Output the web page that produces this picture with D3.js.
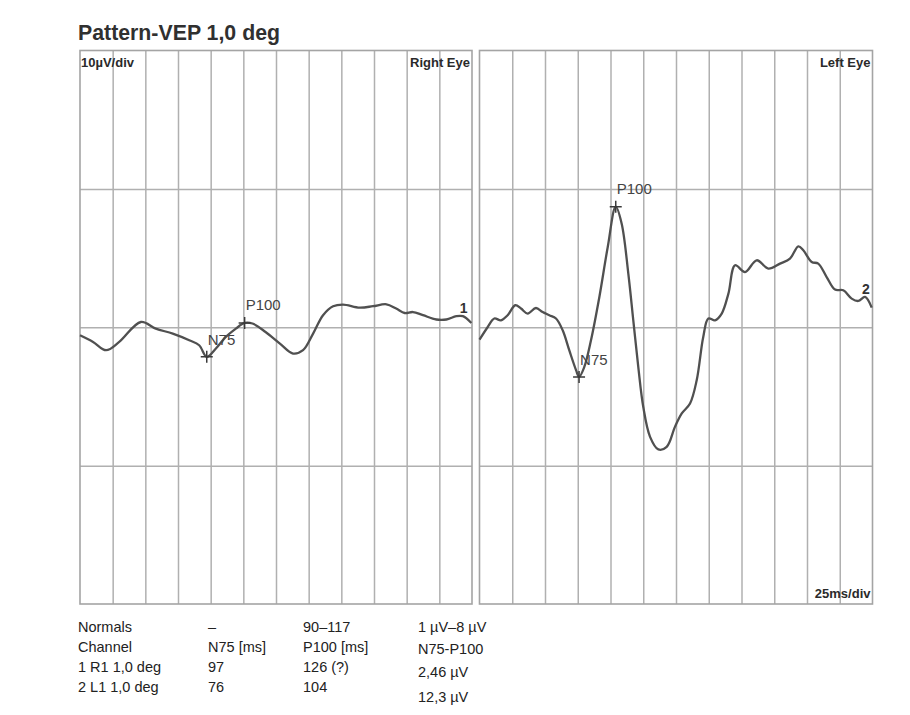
<!DOCTYPE html>
<html><head><meta charset="utf-8">
<script src="https://cdn.jsdelivr.net/npm/d3@7"></script>
<style>
body{margin:0;background:#fff;}
svg{display:block;}
</style></head>
<body>
<svg id="c" width="910" height="715"></svg>
<script>
// ---- data ----
const title = "Pattern-VEP 1,0 deg";
const panelNames = ["Right Eye", "Left Eye"];
const channelLabels = ["1", "2"];
const ampScaleLabel = "10µV/div";
const timeScaleLabel = "25ms/div";

// right eye (channel 1): time in ms, amplitude in µV
const rightTime = [0, 10, 20, 30, 46.6, 58, 71, 83.6, 91.2, 97, 104, 111.6, 119.3, 126, 132, 142, 153, 163, 170.7, 178.4, 186, 193.7, 201.3, 214, 224.2, 234.5, 242, 248.5, 254.8, 262.5, 272.7, 280.4, 288, 293, 299.5];
const rightUv   = [-0.58, -1.06, -1.66, -1.06, 0.38, -0.1, -0.46, -0.94, -1.3, -2.14, -1.54, -0.7, -0.1, 0.31, 0.27, -0.34, -1.18, -1.9, -1.66, -0.46, 0.87, 1.52, 1.64, 1.42, 1.52, 1.66, 1.35, 1.03, 1.1, 0.87, 0.56, 0.56, 0.8, 0.8, 0.31];

// left eye (channel 2)
const leftTime = [0, 6.3, 11.3, 16.4, 21.5, 27.3, 31.7, 36.8, 43.1, 48.2, 53.3, 58.4, 63.5, 68.5, 73.7, 76, 80, 85.1, 91.5, 97.9, 104, 108.5, 113.6, 117.4, 121.2, 125, 130.2, 136.5, 142.9, 149.2, 154.4, 160.7, 165.8, 170.8, 174.7, 179.8, 184.9, 190, 195.1, 202.7, 211.6, 220.5, 229.4, 237, 243.4, 247.2, 253.6, 258.6, 265, 271.4, 277.7, 284.1, 289.2, 294.3, 299.4];
const leftUv   = [-0.9, 0.02, 0.63, 0.5, 0.87, 1.59, 1.35, 0.99, 1.39, 1.1, 0.87, 0.63, -0.22, -1.66, -3.1, -3.59, -2.87, -0.94, 2.19, 5.8, 8.71, 7.49, 3.88, 0.5, -2.87, -5.75, -7.92, -8.83, -8.64, -7.2, -6.23, -5.51, -3.83, -0.7, 0.63, 0.5, 0.99, 2.43, 4.48, 3.99, 4.84, 4.24, 4.6, 4.96, 5.85, 5.56, 4.72, 4.6, 3.63, 2.72, 2.67, 2.07, 1.9, 2.19, 1.42];

// marked peaks
const peakNames = ["N75", "P100"];
const rightPeakTime = [97, 126];
const rightPeakUv   = [-2.14, 0.31];
const leftPeakTime  = [76, 104];
const leftPeakUv    = [-3.59, 8.71];

// results table
const tableCol1 = ["Normals", "Channel", "1 R1 1,0 deg", "2 L1 1,0 deg"];
const tableCol2 = ["–", "N75 [ms]", "97", "76"];
const tableCol3 = ["90–117", "P100 [ms]", "126 (?)", "104"];
const tableCol4 = ["1 µV–8 µV", "N75-P100", "2,46 µV", "12,3 µV"];

// ---- layout ----
const svg = d3.select("#c");
const yTop = 50.5, yBottom = 604;
const panels = [
  {x0: 80, x1: 472, t: rightTime, v: rightUv, pt: rightPeakTime, pv: rightPeakUv, name: panelNames[0], ch: channelLabels[0]},
  {x0: 479.5, x1: 872.5, t: leftTime, v: leftUv, pt: leftPeakTime, pv: leftPeakUv, name: panelNames[1], ch: channelLabels[1]}
];
const y = d3.scaleLinear().domain([-20, 20]).range([yBottom, yTop]);
const gridColor = "#b0b0b0";
const traceColor = "#505050";
const boldFont = "'Liberation Sans Narrow','Arial Narrow','Liberation Sans',Arial,sans-serif";
const lblFont = "'Liberation Sans',Arial,sans-serif";

svg.append("text").attr("x", 78).attr("y", 40)
  .attr("font-family", lblFont).attr("font-weight", "bold")
  .attr("font-size", 21.3).attr("fill", "#303030").text(title);

panels.forEach((p, i) => {
  const x = d3.scaleLinear().domain([0, 300]).range([p.x0, p.x1]);
  const g = svg.append("g");
  const h = yBottom - yTop;
  // vertical grid via axis
  const vx = g.append("g").attr("transform", `translate(0,${yTop})`)
    .call(d3.axisBottom(x).tickValues(d3.range(25, 300, 25)).tickSize(h).tickFormat(""));
  vx.select(".domain").remove();
  vx.selectAll("line").attr("stroke", gridColor).attr("stroke-width", 1.5);
  // horizontal grid via axis
  const hy = g.append("g").attr("transform", `translate(${p.x0},0)`)
    .call(d3.axisRight(y).tickValues([-10, 0, 10]).tickSize(p.x1 - p.x0).tickFormat(""));
  hy.select(".domain").remove();
  hy.selectAll("line").attr("stroke", gridColor).attr("stroke-width", 1.5);
  // border
  g.append("rect").attr("x", p.x0).attr("y", yTop).attr("width", p.x1 - p.x0).attr("height", h)
    .attr("fill", "none").attr("stroke", "#a4a4a4").attr("stroke-width", 1.6);

  // trace
  const pts = p.t.map((t, k) => [t, p.v[k]]);
  const line = d3.line().x(d => x(d[0])).y(d => y(d[1])).curve(d3.curveCatmullRom.alpha(0.5));
  g.append("path").datum(pts).attr("d", line).attr("fill", "none")
    .attr("stroke", traceColor).attr("stroke-width", 2.3).attr("stroke-linejoin", "round");

  // peak markers
  p.pt.forEach((t, k) => {
    const cx = x(t), cy = y(p.pv[k]);
    g.append("path").attr("d", `M${cx - 6},${cy}H${cx + 6}M${cx},${cy - 6}V${cy + 6}`)
      .attr("stroke", "#3a3a3a").attr("stroke-width", 1.5);
  });
  // peak labels
  g.append("text").attr("x", x(p.pt[0]) + 1).attr("y", y(p.pv[0]) - 12).attr("font-family", lblFont)
    .attr("font-size", 15).attr("fill", "#444").text(peakNames[0]);
  g.append("text").attr("x", x(p.pt[1]) + 1).attr("y", y(p.pv[1]) - 13).attr("font-family", lblFont)
    .attr("font-size", 15).attr("fill", "#444").text(peakNames[1]);

  // channel number near trace end
  const lastT = p.t[p.t.length - 2], lastV = p.v[p.v.length - 2];
  g.append("text").attr("x", x(lastT) - 3).attr("y", y(lastV) - 3).attr("font-family", lblFont)
    .attr("font-weight", "bold").attr("font-size", 14).attr("fill", "#333").text(p.ch);

  // panel name
  g.append("text").attr("x", p.x1 - 2).attr("y", yTop + 16).attr("text-anchor", "end")
    .attr("font-family", boldFont).attr("font-weight", "bold").attr("font-size", 13)
    .attr("fill", "#2a2a2a").text(p.name);
  if (i === 0) {
    g.append("text").attr("x", p.x0 + 1).attr("y", yTop + 16)
      .attr("font-family", boldFont).attr("font-weight", "bold").attr("font-size", 13)
      .attr("fill", "#2a2a2a").text(ampScaleLabel);
  } else {
    g.append("text").attr("x", p.x1 - 2).attr("y", yBottom - 6).attr("text-anchor", "end")
      .attr("font-family", boldFont).attr("font-weight", "bold").attr("font-size", 13)
      .attr("fill", "#2a2a2a").text(timeScaleLabel);
  }
});

// table
const colX = [78, 208, 303, 418];
const rowY = [632, 652, 672, 692];
const col4Y = [632, 654, 677, 702];
const cols = [tableCol1, tableCol2, tableCol3, tableCol4];
cols.forEach((col, c) => {
  col.forEach((s, r) => {
    svg.append("text").attr("x", colX[c]).attr("y", c === 3 ? col4Y[r] : rowY[r])
      .attr("font-family", lblFont).attr("font-size", 14.5)
      .attr("fill", "#222").text(s);
  });
});
</script>
</body></html>
